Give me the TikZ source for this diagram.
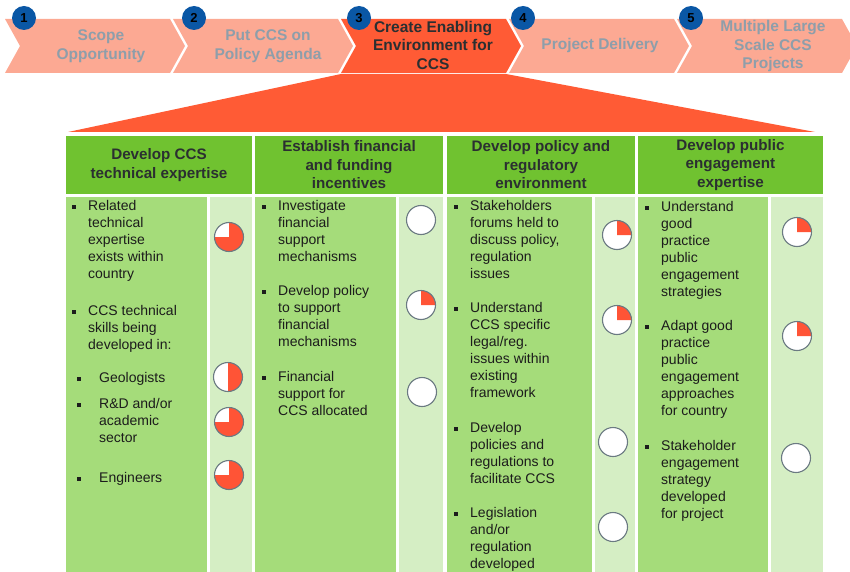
\documentclass[tikz,border=0pt]{standalone}
\usepackage{fontspec}
\setmainfont{Liberation Sans}
\usetikzlibrary{positioning}

\definecolor{stepfade}{HTML}{FCA993}
\definecolor{stepact}{HTML}{FF5B35}
\definecolor{stepgrey}{HTML}{8E9EAA}
\definecolor{darktext}{HTML}{2B2F31}
\definecolor{numblue}{HTML}{0A57A5}
\definecolor{headgreen}{HTML}{70C230}
\definecolor{textgreen}{HTML}{A5DC7A}
\definecolor{ballgreen}{HTML}{D5EEC4}
\definecolor{pieorange}{HTML}{FF5436}
\definecolor{balledge}{HTML}{6B7A82}
\definecolor{bodytext}{HTML}{1C1C1C}

\tikzset{
  steplabel/.style={align=center, inner sep=0pt, text=stepgrey, font=\bfseries\fontsize{15.5}{18.5}\selectfont},
  numball/.style={circle, fill=numblue, minimum size=24pt, inner sep=0pt, text=black, font=\bfseries\fontsize{13}{13}\selectfont},
  headcell/.style={fill=headgreen, minimum height=58pt, inner sep=0pt, align=center, text=darktext, font=\bfseries\fontsize{15.2}{18.5}\selectfont},
  item/.style={anchor=north west, align=left, inner sep=0pt, text=bodytext, font=\fontsize{14}{17}\selectfont},
  sqbullet/.style={fill=bodytext, minimum size=4pt, inner sep=0pt},
  ball/.style={circle, draw=balledge, line width=1.1pt, fill=white, minimum size=29pt, inner sep=0pt},
  pie/.style={ball, path picture={\fill[pieorange] (path picture bounding box.center) -- ++(#1:16pt) arc[start angle=#1, end angle=90, radius=16pt] -- cycle;}}
}

\begin{document}
\begin{tikzpicture}[x=1pt, y=-1pt]
    \clip (0,0) rectangle (850,572);

    \foreach \i/\c in {1/stepfade, 2/stepfade, 3/stepact, 4/stepfade, 5/stepfade}
        \fill[\c] ({5+168*(\i-1)},19) -- ++(165,0) -- ++(15,27) -- ++(-15,27) -- ++(-165,0) -- ++(15,-27) -- cycle;
    \fill[stepact] (341,74) -- (506,74) -- (815,132) -- (68,132) -- cycle;

    \foreach \i/\x in {1/24, 2/194, 3/359, 4/523, 5/691}
        \node[numball] (n\i) at (\x,18) {\i};

    \node[steplabel] (s1) at (101,46) {Scope\\Opportunity};
    \node[steplabel] (s2) at (268,46) {Put CCS on\\Policy Agenda};
    \node[steplabel, text=darktext] (s3) at (433,45) {Create Enabling\\Environment for\\CCS};
    \node[steplabel] (s4) at (600,45) {Project Delivery};
    \node[steplabel] (s5) at (773,46) {Multiple Large\\Scale CCS\\Projects};

    \node[headcell, minimum width=186pt] (h1) at (159,165) {Develop CCS\\technical expertise};
    \node[headcell, minimum width=188pt] (h2) at (349,165) {Establish financial\\and funding\\incentives};
    \node[headcell, minimum width=188pt] (h3) at (541,165) {Develop policy and\\regulatory\\environment};
    \node[headcell, minimum width=185pt] (h4) at (730.5,165) {Develop public\\engagement\\expertise};

    \foreach \xa/\xb/\xc/\xd in {66/207/210/252, 255/396/399/443, 447/592/595/635, 638/768/771/823} {
        \fill[textgreen] (\xa,197) rectangle (\xb,572);
        \fill[ballgreen] (\xc,197) rectangle (\xd,572);
    }

    \foreach \n/\x/\y/\t in {
        a1/88/200/{Related\\technical\\expertise\\exists within\\country},
        a2/88/305/{CCS technical\\skills being\\developed in:},
        b1/278/200/{Investigate\\financial\\support\\mechanisms},
        b2/278/285/{Develop policy\\to support\\financial\\mechanisms},
        b3/278/371/{Financial\\support for\\CCS allocated},
        c1/470/200/{Stakeholders\\forums held to\\discuss policy,\\regulation\\issues},
        c2/470/302/{Understand\\CCS specific\\legal/reg.\\issues within\\existing\\framework},
        c3/470/422/{Develop\\policies and\\regulations to\\facilitate CCS},
        c4/470/507/{Legislation\\and/or\\regulation\\developed},
        d1/661/201/{Understand\\good\\practice\\public\\engagement\\strategies},
        d2/661/320/{Adapt good\\practice\\public\\engagement\\approaches\\for country},
        d3/661/440/{Stakeholder\\engagement\\strategy\\developed\\for project}} {
        \node[item] (\n) at (\x,\y) {\t};
        \node[sqbullet, below left=5pt and 12pt of \n.north west] (\n b) {};
    }
    \foreach \n/\y/\t in {a3/372/{Geologists}, a4/398/{R\&D and/or\\academic\\sector}, a5/472/{Engineers}} {
        \node[item] (\n) at (99,\y) {\t};
        \node[sqbullet, below left=5pt and 18pt of \n.north west] (\n b) {};
    }

    \node[pie=-180] (a1p) at (229,237) {};
    \node[pie=-90] (a3p) at (228,377) {};
    \node[pie=-180] (a4p) at (229,422) {};
    \node[pie=-180] (a5p) at (229,475) {};
    \node[ball] (b1p) at (421,220) {};
    \node[pie=0] (b2p) at (421,305) {};
    \node[ball] (b3p) at (422,392) {};
    \node[pie=0] (c1p) at (617,235) {};
    \node[pie=0] (c2p) at (617,320) {};
    \node[ball] (c3p) at (613,442) {};
    \node[ball] (c4p) at (613,527) {};
    \node[pie=0] (d1p) at (797,232) {};
    \node[pie=0] (d2p) at (797,336) {};
    \node[ball] (d3p) at (796,458) {};
\end{tikzpicture}
\end{document}
